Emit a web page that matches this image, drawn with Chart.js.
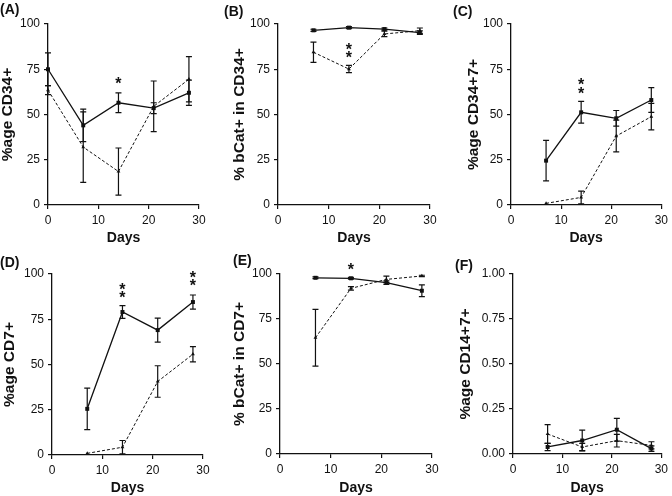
<!DOCTYPE html>
<html>
<head>
<meta charset="utf-8">
<script src="https://cdn.jsdelivr.net/npm/chart.js@4.4.1/dist/chart.umd.min.js"></script>
<style>
  body { margin: 0; background: #fff; }
  #wrap { position: relative; width: 672px; height: 496px; }
  #wrap canvas { position: absolute; }
</style>
</head>
<body>
<div id="wrap">
  <canvas id="cA" width="224" height="246" style="left:0;top:0"></canvas>
  <canvas id="cB" width="224" height="246" style="left:224px;top:0"></canvas>
  <canvas id="cC" width="224" height="246" style="left:448px;top:0"></canvas>
  <canvas id="cD" width="224" height="246" style="left:0;top:250px"></canvas>
  <canvas id="cE" width="224" height="246" style="left:224px;top:250px"></canvas>
  <canvas id="cF" width="224" height="246" style="left:448px;top:250px"></canvas>
</div>
<script>
// ----- DATA -----
const daysA = [0, 7, 14, 21, 28];
const days = [7, 14, 21, 28];
const xTicks = [0, 10, 20, 30];
const pctTicks = [0, 25, 50, 75, 100];
const fracTicks = [0, 0.25, 0.5, 0.75, 1];

// (A) %age CD34+
const cd34Solid = [75, 44, 56.5, 53.5, 62];
const cd34SolidErr = [9, 9, 5.5, 3, 7];
const cd34Dashed = [63.5, 32, 18.5, 54.5, 69.5];
const cd34DashedErr = [2.5, 19.5, 13, 14, 12.5];
const cd34Stars = [[14, 68.5]];

// (B) % bCat+ in CD34+
const bcat34Solid = [96.5, 98, 97.2, 95.2];
const bcat34SolidErr = [0.6, 0.5, 0.6, 1];
const bcat34Dashed = [84.4, 75.1, 94.5, 96.3];
const bcat34DashedErr = [5.6, 2, 1.5, 1.5];
const bcat34Stars = [[14, 87.5], [14, 82.9]];

// (C) %age CD34+7+
const cd347Solid = [24.5, 51.2, 47.9, 58];
const cd347SolidErr = [11.2, 6, 4.3, 6.8];
const cd347Dashed = [0.9, 4.2, 38.1, 48.8];
const cd347DashedErr = [0, 3.5, 8.8, 7.3];
const cd347Stars = [[14, 68], [14, 63.2]];

// (D) %age CD7+
const cd7Solid = [25.5, 79, 69, 84.5];
const cd7SolidErr = [11.5, 3.5, 6.6, 3.9];
const cd7Dashed = [0.9, 4.3, 40.6, 55.7];
const cd7DashedErr = [0, 3.7, 8.7, 4.2];
const cd7Stars = [[14, 93], [14, 88.5], [28, 99.6], [28, 95]];

// (E) % bCat+ in CD7+
const bcat7Solid = [97.9, 97.6, 95.2, 90.7];
const bcat7SolidErr = [0.5, 0.5, 1, 3.3];
const bcat7Dashed = [64.6, 92, 97, 98.9];
const bcat7DashedErr = [15.8, 1, 1.8, 0.4];
const bcat7Stars = [[14, 104]];

// (F) %age CD14+7+
const cd147Solid = [0.039, 0.075, 0.135, 0.03];
const cd147SolidErr = [0.02, 0.058, 0.063, 0.015];
const cd147Dashed = [0.111, 0.039, 0.074, 0.048];
const cd147DashedErr = [0.052, 0.02, 0.035, 0.02];

// ----- error bars, asterisks, panel letter -----
const extras = {
  id: 'extras',
  afterDatasetsDraw(chart, args, opts) {
    const ctx = chart.ctx;
    const xs = chart.scales.x, ys = chart.scales.y;
    ctx.save();
    ctx.strokeStyle = '#111';
    ctx.lineWidth = 1.2;
    chart.data.datasets.forEach(ds => {
      ds.data.forEach((p, i) => {
        const e = ds.errors[i];
        if (!e) return;
        const x = xs.getPixelForValue(p.x);
        const t = ys.getPixelForValue(p.y + e);
        const b = ys.getPixelForValue(p.y - e);
        ctx.beginPath();
        ctx.moveTo(x, t); ctx.lineTo(x, b);
        ctx.moveTo(x - 3, t); ctx.lineTo(x + 3, t);
        ctx.moveTo(x - 3, b); ctx.lineTo(x + 3, b);
        ctx.stroke();
      });
    });
    ctx.fillStyle = '#111';
    ctx.font = 'bold 16px "Liberation Sans", Arial, sans-serif';
    ctx.textAlign = 'center';
    ctx.textBaseline = 'middle';
    (opts.stars || []).forEach(s => {
      ctx.fillText('*', xs.getPixelForValue(s[0]), ys.getPixelForValue(s[1]) + 4);
    });
    ctx.font = 'bold 14px "Liberation Sans", Arial, sans-serif';
    ctx.textAlign = 'left';
    ctx.fillText(opts.label, opts.lx, opts.ly);
    ctx.restore();
  }
};

function makePanel(id, cfg) {
  const solid = cfg.x.map((d, i) => ({ x: d, y: cfg.solid[i] }));
  const dashed = cfg.x.map((d, i) => ({ x: d, y: cfg.dashed[i] }));
  const font = { family: '"Liberation Sans", Arial, sans-serif', size: 12 };
  const daysFont = { family: '"Liberation Sans", Arial, sans-serif', size: 14, weight: 'bold', lineHeight: 1 };
  const yFont = { family: '"Liberation Sans", Arial, sans-serif', size: 15.5, weight: 'bold', lineHeight: 1 };
  new Chart(document.getElementById(id), {
    type: 'line',
    data: {
      datasets: [
        { data: dashed, errors: cfg.dashedErr, borderColor: '#111', backgroundColor: '#111',
          borderWidth: 1, borderDash: [3, 2], pointStyle: 'triangle', pointRadius: 2.2,
          pointBorderWidth: 0, tension: 0, clip: false },
        { data: solid, errors: cfg.solidErr, borderColor: '#111', backgroundColor: '#111',
          borderWidth: 1.3, pointStyle: 'rect', pointRadius: 2.8,
          pointBorderWidth: 0, tension: 0, clip: false }
      ]
    },
    options: {
      responsive: false,
      animation: false,
      events: [],
      layout: { padding: { left: 0, right: cfg.padR, top: 24, bottom: 0 } },
      plugins: {
        legend: { display: false },
        tooltip: { enabled: false },
        extras: { label: cfg.label, lx: cfg.lx, ly: cfg.ly, stars: cfg.stars }
      },
      scales: {
        x: {
          type: 'linear', min: 0, max: 30,
          afterBuildTicks: s => { s.ticks = xTicks.map(v => ({ value: v })); },
          afterFit: s => { s.height = cfg.xH; },
          grid: { drawOnChartArea: false, tickLength: 4, color: '#111', lineWidth: 1.2 },
          border: { color: '#111', width: 1.3 },
          ticks: { color: '#111', font, padding: 4, maxRotation: 0 },
          title: { display: true, text: 'Days', color: '#111', font: daysFont, padding: { top: 0, bottom: 1 } }
        },
        y: {
          min: 0, max: cfg.yMax,
          afterBuildTicks: s => { s.ticks = cfg.yTicks.map(v => ({ value: v })); },
          afterFit: s => { s.width = cfg.yW; },
          grid: { drawOnChartArea: false, tickLength: 4, color: '#111', lineWidth: 1.2 },
          border: { color: '#111', width: 1.3 },
          ticks: { color: '#111', font, padding: 4,
                   callback: v => cfg.yMax === 1 ? v.toFixed(2) : String(v) },
          title: { display: true, text: cfg.yTitle, color: '#111', font: yFont,
                   padding: { top: cfg.tPad, bottom: 0 } }
        }
      }
    },
    plugins: [extras]
  });
}

makePanel('cA', { label: '(A)', lx: 0, ly: 10, x: daysA, solid: cd34Solid, solidErr: cd34SolidErr,
  dashed: cd34Dashed, dashedErr: cd34DashedErr, stars: cd34Stars, yTitle: '%age CD34+',
  yMax: 100, yTicks: pctTicks, yW: 48, padR: 25, xH: 41, tPad: 0 });
makePanel('cB', { label: '(B)', lx: 0, ly: 12, x: days, solid: bcat34Solid, solidErr: bcat34SolidErr,
  dashed: bcat34Dashed, dashedErr: bcat34DashedErr, stars: bcat34Stars, yTitle: '% bCat+ in CD34+',
  yMax: 100, yTicks: pctTicks, yW: 54, padR: 18, xH: 41, tPad: 8 });
makePanel('cC', { label: '(C)', lx: 5, ly: 12, x: days, solid: cd347Solid, solidErr: cd347SolidErr,
  dashed: cd347Dashed, dashedErr: cd347DashedErr, stars: cd347Stars, yTitle: '%age CD34+7+',
  yMax: 100, yTicks: pctTicks, yW: 63, padR: 10, xH: 41, tPad: 18 });
makePanel('cD', { label: '(D)', lx: 0, ly: 13, x: days, solid: cd7Solid, solidErr: cd7SolidErr,
  dashed: cd7Dashed, dashedErr: cd7DashedErr, stars: cd7Stars, yTitle: '%age CD7+',
  yMax: 100, yTicks: pctTicks, yW: 52, padR: 21, xH: 41, tPad: 2 });
makePanel('cE', { label: '(E)', lx: 9, ly: 11, x: days, solid: bcat7Solid, solidErr: bcat7SolidErr,
  dashed: bcat7Dashed, dashedErr: bcat7DashedErr, stars: bcat7Stars, yTitle: '% bCat+ in CD7+',
  yMax: 100, yTicks: pctTicks, yW: 56, padR: 16, xH: 42, tPad: 8 });
makePanel('cF', { label: '(F)', lx: 7, ly: 16, x: days, solid: cd147Solid, solidErr: cd147SolidErr,
  dashed: cd147Dashed, dashedErr: cd147DashedErr, stars: [], yTitle: '%age CD14+7+',
  yMax: 1, yTicks: fracTicks, yW: 65, padR: 7, xH: 42, tPad: 10 });
</script>
</body>
</html>
